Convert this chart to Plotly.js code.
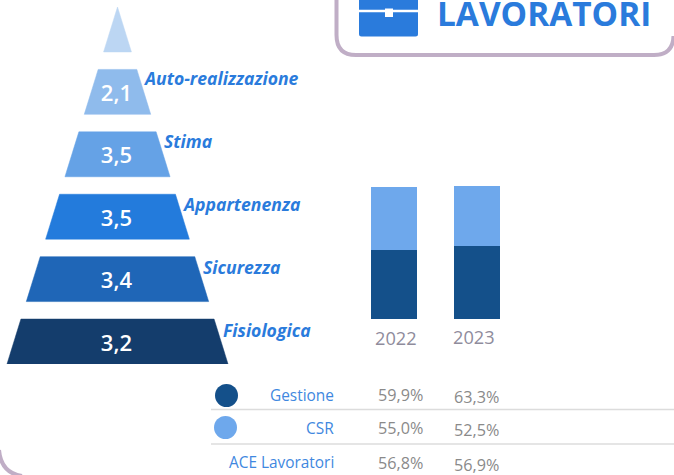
<!DOCTYPE html>
<html><head><meta charset="utf-8">
<script src="https://cdn.plot.ly/plotly-3.0.1.min.js"></script>
<style>html,body{margin:0;padding:0;background:#fff}#c{width:674px;height:475px}</style></head>
<body><div id="c"></div>
<script>
// Pyramid
const levels = ["", "Auto-realizzazione", "Stima", "Appartenenza", "Sicurezza", "Fisiologica"];
const levelValues = ["", "2,1", "3,5", "3,5", "3,4", "3,2"];
const levelColors = ["#bcd6f3", "#8fbbec", "#65a2e6", "#237bdc", "#1f66b7", "#143d6c"];
// Stacked bars
const years = ["2022", "2023"];
const gestione = [59.9, 63.3];
const csr = [55.0, 52.5];
const aceLavoratori = [56.8, 56.9];
const rowNames = ["Gestione", "CSR", "ACE Lavoratori"];
const title = "LAVORATORI";

const W = 674, H = 475;
const px = x => x / W, py = y => 1 - y / H;
const fmt = v => v.toFixed(1).replace(".", ",") + "%";

// pyramid geometry in level units: each level occupies bandH of a unit band
const bandH = 0.72, apex = levels.length - 1 + bandH;
const hw = h => 1 - h / apex;
const traces = levels.map((name, i) => {
  const b = levels.length - 1 - i, t = b + bandH;
  return {type: "scatter", mode: "lines", xaxis: "x", yaxis: "y", fill: "toself",
    fillcolor: levelColors[i], line: {width: 0.5, color: levelColors[i]}, hoverinfo: "skip", showlegend: false,
    x: [-hw(b), hw(b), hw(t), -hw(t), -hw(b)], y: [b, b, t, t, b]};
});
traces.push({type: "scatter", mode: "text", xaxis: "x", yaxis: "y", showlegend: false, hoverinfo: "skip",
  x: levels.map(() => -0.01), y: levels.map((_, i) => levels.length - 1 - i + bandH * 0.42),
  text: levelValues, textposition: "middle center",
  textfont: {family: "Open Sans", size: 22, color: "#fff", weight: 600}});
traces.push({type: "bar", xaxis: "x2", yaxis: "y2", x: years, y: gestione, marker: {color: "#14508a"}, width: 0.554, hoverinfo: "skip", showlegend: false});
traces.push({type: "bar", xaxis: "x2", yaxis: "y2", x: years, y: csr, marker: {color: "#6ea8ec"}, width: 0.554, hoverinfo: "skip", showlegend: false});

const ann = [];
const labelX = [null, 141, 162, 180, 201, 221], labelY = [null, 77.5, 140.5, 203.5, 266.5, 329.5];
levels.forEach((n, i) => { if (n) ann.push({xref: "paper", yref: "paper", x: px(labelX[i]), y: py(labelY[i]), xanchor: "left", yanchor: "middle", showarrow: false, text: "<b><i>" + n + "</i></b>", font: {family: "Open Sans", size: 17.6, color: "#2a7bdc"}}); });
const rowY = [395, 428, 462], valY = [395, 428, 463];
rowNames.forEach((n, i) => ann.push({xref: "paper", yref: "paper", x: px(336), y: py(rowY[i]), xanchor: "right", yanchor: "middle", showarrow: false, text: n, font: {family: "Open Sans", size: 15.4, color: "#3f88e0"}}));
[gestione, csr, aceLavoratori].forEach((s, r) => s.forEach((v, c) => ann.push({xref: "paper", yref: "paper", x: px([400.5, 476][c]), y: py(valY[r] + (c ? 2 : 0)), xanchor: "center", yanchor: "middle", showarrow: false, text: fmt(v), font: {family: "Open Sans", size: 16.2, color: "#8a8a8a"}})));
years.forEach((t, i) => ann.push({xref: "paper", yref: "paper", x: px([396, 474][i]), y: py([338, 337][i]), xanchor: "center", yanchor: "middle", showarrow: false, text: t, font: {family: "Open Sans", size: 18.2, color: "#8f8c9c"}}));
ann.push({xref: "paper", yref: "paper", x: px(435), y: py(13), xanchor: "left", yanchor: "middle", showarrow: false, text: "<b>" + title + "</b>", font: {family: "Open Sans", size: 33.4, color: "#2a7bdc"}});

const iconPath = `M ${px(359)} ${py(-2)} L ${px(418)} ${py(-2)} L ${px(418)} ${py(34)} Q ${px(418)} ${py(36.5)} ${px(415.5)} ${py(36.5)} L ${px(361.5)} ${py(36.5)} Q ${px(359)} ${py(36.5)} ${px(359)} ${py(34)} Z`;
const shapes = [
  {type: "path", xref: "paper", yref: "paper", path: `M ${px(336.5)} ${py(-5)} L ${px(336.5)} ${py(35)} Q ${px(336.5)} ${py(55)} ${px(356)} ${py(55)} L ${px(654)} ${py(55)} Q ${px(673)} ${py(55)} ${px(673.5)} ${py(36)}`, line: {color: "#c0aec6", width: 4}},
  {type: "path", xref: "paper", yref: "paper", path: `M ${px(-1)} ${py(450)} Q ${px(1)} ${py(473)} ${px(22)} ${py(476)}`, line: {color: "#c0aec6", width: 4}},
  {type: "circle", xref: "paper", yref: "paper", x0: px(215), x1: px(238), y0: py(407), y1: py(384), fillcolor: "#14508a", line: {width: 0}},
  {type: "circle", xref: "paper", yref: "paper", x0: px(214), x1: px(237), y0: py(439), y1: py(416), fillcolor: "#6ea8ec", line: {width: 0}},
  {type: "line", xref: "paper", yref: "paper", x0: px(211), x1: px(674), y0: py(409.5), y1: py(409.5), line: {color: "#dcdcdc", width: 1.5}},
  {type: "line", xref: "paper", yref: "paper", x0: px(211), x1: px(674), y0: py(444), y1: py(444), line: {color: "#dcdcdc", width: 1.5}},
  {type: "path", xref: "paper", yref: "paper", path: iconPath, fillcolor: "#2a7bdc", line: {width: 0}},
  {type: "line", xref: "paper", yref: "paper", x0: px(359), x1: px(418), y0: py(11), y1: py(11), line: {color: "#fff", width: 2.5}},
  {type: "rect", xref: "paper", yref: "paper", x0: px(385), x1: px(393), y0: py(8.5), y1: py(17), fillcolor: "#fff", line: {width: 0}}
];

Plotly.newPlot("c", traces, {
  width: W, height: H, margin: {l: 0, r: 0, t: 0, b: 0}, paper_bgcolor: "#fff", plot_bgcolor: "rgba(0,0,0,0)",
  barmode: "stack", showlegend: false,
  xaxis: {domain: [0, px(235)], range: [-235 / 2 / 110.5, 235 / 2 / 110.5], visible: false, fixedrange: true},
  yaxis: {domain: [py(364), py(7)], range: [0, apex], visible: false, fixedrange: true},
  xaxis2: {domain: [px(352.5), px(518.5)], anchor: "y2", type: "category", range: [-0.5, 1.5], visible: false},
  yaxis2: {domain: [py(319), py(319 - 120 * 1.15)], anchor: "x2", range: [0, 120], visible: false, fixedrange: true},
  annotations: ann, shapes: shapes
}, {staticPlot: true, displayModeBar: false});
</script></body></html>
